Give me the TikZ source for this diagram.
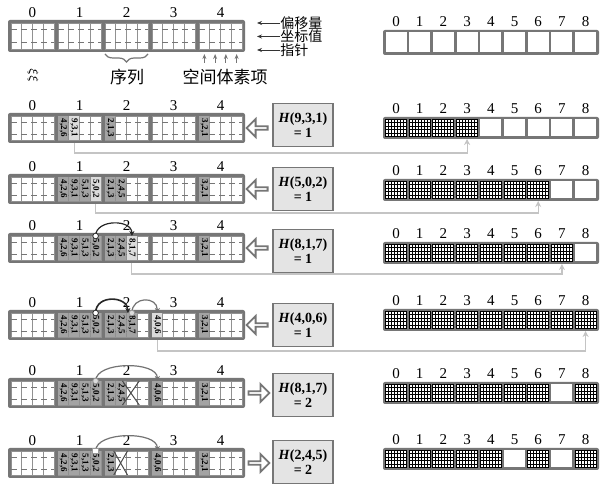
\documentclass[tikz,border=0pt]{standalone}
\usepackage{fontspec}
\setmainfont{Liberation Serif}
\newfontfamily\cjk{Noto Sans CJK SC}
\usetikzlibrary{arrows.meta,decorations.pathreplacing,shapes.arrows}
\definecolor{frame}{HTML}{767676}
\definecolor{itemc}{HTML}{A3A3A3}
\definecolor{newc}{HTML}{DCDCDC}
\definecolor{hboxc}{HTML}{E4E4E4}
\definecolor{linkc}{HTML}{C4C4C4}

% left array: name, top, height
\newcommand\LArr[3]{%
  \fill[frame, rounded corners=1pt] (8,#2) rectangle (245,#2+#3);
  \foreach \bk in {0,...,4}{%
    \foreach \cl in {0,...,3}{%
      \pgfmathsetmacro\lxa{11+47*\bk+10.75*\cl}%
      \filldraw[fill=white, draw=frame!80, line width=0.4pt] (\lxa,#2+3) rectangle (\lxa+10.75,#2+#3-3);%
      \coordinate (#1-\bk-\cl-t) at (\lxa+5.375,#2+3);%
      \coordinate (#1-\bk-\cl-b) at (\lxa+5.375,#2+#3);%
    }%
    \draw[frame, densely dashed, line width=0.4pt] (11+47*\bk,#2+0.3*#3) -- ++(43,0) (11+47*\bk,#2+0.7*#3) -- ++(43,0);%
    \node[lbl] (#1-n\bk) at (32.5+47*\bk,#2-7) {\bk};%
  }%
}
% item: name, top, block, col, fill, text
\newcommand\Itm[6]{%
  \pgfmathsetmacro\lxa{11+47*#3+10.75*#4}%
  \fill[#5] (\lxa+0.4,#2+3.4) rectangle (\lxa+10.35,#2+26.6);%
  \node[itxt] (#1-i#3#4) at (\lxa+5.375,#2+15) {#6};%
}
\newcommand\BOne[2]{%
  \Itm{#1}{#2}{1}{0}{itemc}{4,2,6}\Itm{#1}{#2}{1}{1}{itemc}{9,3,1}%
  \Itm{#1}{#2}{1}{2}{itemc}{5,1,3}\Itm{#1}{#2}{1}{3}{itemc}{5,0,2}}
% X mark: top, block, col, left ext, right ext
\newcommand\Xm[5]{%
  \pgfmathsetmacro\lxa{11+47*#2+10.75*#3}%
  \draw[black!70, line width=0.5pt] (\lxa-#4,#1+3) -- (\lxa+10.75+#5,#1+27) (\lxa+10.75+#5,#1+3) -- (\lxa-#4,#1+27);%
}
% right array: name, top, height
\newcommand\RArr[3]{%
  \fill[frame, rounded corners=1pt] (383,#2) rectangle (599,#2+#3);
  \foreach \ii in {0,...,8}{%
    \pgfmathsetmacro\lxa{385.5+23.7*\ii}%
    \fill[white] (\lxa,#2+2.5) rectangle (\lxa+21,#2+#3-2.5);%
    \coordinate (#1-\ii-b) at (\lxa+10.5,#2+#3);%
    \node[lbl] (#1-n\ii) at (\lxa+10.5,#2-8) {\ii};%
  }%
}
% filled cells: top, height, list
\newcommand\RFill[3]{%
  \foreach \ii in {#3}{%
    \pgfmathsetmacro\lxa{385.5+23.7*\ii}%
    \draw[black, line width=0.45pt] (\lxa,#1+2.5) rectangle (\lxa+21,#1+#2-2.5);%
    \foreach \kk in {1,...,6}{\draw[black, line width=0.45pt] (\lxa+3*\kk,#1+2.5) -- ++(0,#2-5);}%
    \foreach \kk in {1,...,4}{\draw[black, line width=0.45pt] (\lxa,#1+2.5+\kk*#2/5-\kk) -- ++(21,0);}%
  }%
}

\begin{document}
\begin{tikzpicture}[x=0.5pt,y=-0.5pt,
  lbl/.style={font=\fontsize{7.5}{8}\selectfont, inner sep=0},
  itxt/.style={font=\fontsize{4.5}{5}\selectfont\bfseries, rotate=-90, inner sep=0},
  cjkl/.style={font=\cjk\fontsize{8.5}{9}\selectfont, inner sep=0},
  cjks/.style={font=\cjk\fontsize{7}{7.5}\selectfont, inner sep=0},
  hbox/.style={draw=frame, line width=0.7pt, fill=hboxc, minimum width=30pt, minimum height=21.5pt, align=center, font=\fontsize{7}{7.8}\selectfont\bfseries, inner sep=0},
  barrow/.style={single arrow, draw=frame, fill=white, line width=0.9pt, minimum height=10.5pt, minimum width=9pt, single arrow head extend=1.8pt, inner sep=0},
  link/.style={draw=linkc, line width=0.6pt, -{Stealth[length=3pt,width=3pt]}},
  arcdark/.style={draw=black!85, line width=0.6pt, -{Stealth[length=2.5pt,width=2.5pt]}},
  arcgray/.style={draw=black!55, line width=0.6pt, -{Stealth[length=2.5pt,width=2.5pt]}},
  ptrmark/.style={circle, draw=black!80, fill=white, line width=0.4pt, inner sep=0, minimum size=2.8pt},
  hdrarrow/.style={draw=black!80, line width=0.4pt, -{Stealth[length=2.5pt,width=2pt]}},
]
\useasboundingbox[fill=white] (0,0) rectangle (600,485);

% ---------- header ----------
\LArr{h}{20}{32}
\RArr{q0}{30}{25}
\node[cjks, anchor=west] (t1) at (280,23) {偏移量};
\node[cjks, anchor=west] (t2) at (280,36.5) {坐标值};
\node[cjks, anchor=west] (t3) at (280,50) {指针};
\draw[hdrarrow] (t1.west) -- ++(-23,0);
\draw[hdrarrow] (t2.west) -- ++(-23,0);
\draw[hdrarrow] (t3.west) -- ++(-23,0);
\draw[frame, line width=0.6pt, decorate, decoration={brace, mirror, amplitude=4pt}] (105,54) -- (148,54);
\node[cjkl] (seq) at (127,77) {序列};
\node[cjkl] (vox) at (225,77) {空间体素项};
\foreach \cl in {0,...,3}{\draw[draw=frame, line width=0.5pt, -{Stealth[length=2.5pt,width=2pt]}] (h-4-\cl-b) ++(0,11) -- ++(0,-9);}
\node[rotate=-90, font=\fontsize{6}{6}\selectfont, inner sep=0] (sq) at (33,76) {$\xi\xi$};

% ---------- row 1 ----------
\LArr{r1}{113}{30}
\Itm{r1}{113}{1}{0}{itemc}{4,2,6}
\Itm{r1}{113}{1}{1}{newc}{9,3,1}
\Itm{r1}{113}{2}{0}{itemc}{2,1,3}
\Itm{r1}{113}{4}{0}{itemc}{3,2,1}
\node[barrow, shape border rotate=180] (a1) at (258,128) {};
\node[hbox] (H1) at (303,125) {\textit{H}(9,3,1)\\= 1};
\RArr{q1}{117}{22}
\RFill{117}{22}{0,1,2,3}

% ---------- row 2 ----------
\LArr{r2}{174}{30}
\Itm{r2}{174}{1}{0}{itemc}{4,2,6}
\Itm{r2}{174}{1}{1}{itemc}{9,3,1}
\Itm{r2}{174}{1}{2}{itemc}{5,1,3}
\Itm{r2}{174}{1}{3}{newc}{5,0,2}
\Itm{r2}{174}{2}{0}{itemc}{2,1,3}
\Itm{r2}{174}{2}{1}{itemc}{2,4,5}
\Itm{r2}{174}{4}{0}{itemc}{3,2,1}
\node[barrow, shape border rotate=180] (a2) at (258,189) {};
\node[hbox] (H2) at (303,189) {\textit{H}(5,0,2)\\= 1};
\RArr{q2}{179}{22}
\RFill{179}{22}{0,1,2,3,4,5,6}

% ---------- row 3 ----------
\LArr{r3}{233}{30}
\BOne{r3}{233}
\Itm{r3}{233}{2}{0}{itemc}{2,1,3}
\Itm{r3}{233}{2}{1}{itemc}{2,4,5}
\Itm{r3}{233}{2}{2}{newc}{8,1,7}
\Itm{r3}{233}{4}{0}{itemc}{3,2,1}
\draw[arcdark] (r3-1-3-t) .. controls +(0,-17) and +(0,-17) .. (r3-2-2-t);
\node[ptrmark] (m3) at (r3-1-3-t) {};
\node[barrow, shape border rotate=180] (a3) at (258,248) {};
\node[hbox] (H3) at (303,251) {\textit{H}(8,1,7)\\= 1};
\RArr{q3}{242}{22}
\RFill{242}{22}{0,1,2,3,4,5,6,7}

% ---------- row 4 ----------
\LArr{r4}{310}{30}
\BOne{r4}{310}
\Itm{r4}{310}{2}{0}{itemc}{2,1,3}
\Itm{r4}{310}{2}{1}{itemc}{2,4,5}
\Itm{r4}{310}{2}{2}{itemc}{8,1,7}
\Itm{r4}{310}{3}{0}{newc}{4,0,6}
\Itm{r4}{310}{4}{0}{itemc}{3,2,1}
\draw[arcdark, line width=0.8pt] (r4-1-3-t) .. controls +(0,-19) and +(0,-17) .. ([xshift=-2pt]r4-2-2-t);
\draw[arcgray] (r4-2-2-t) .. controls +(0,-17) and +(0,-17) .. (r4-3-0-t);
\node[ptrmark] (m4a) at (r4-1-3-t) {};
\node[ptrmark, fill=newc, draw=black!40] (m4b) at (r4-2-2-t) {};
\node[barrow, shape border rotate=180] (a4) at (258,325) {};
\node[hbox] (H4) at (303,325) {\textit{H}(4,0,6)\\= 1};
\RArr{q4}{309}{22}
\RFill{309}{22}{0,1,2,3,4,5,6,7,8}

% ---------- row 5 ----------
\LArr{r5}{378}{30}
\BOne{r5}{378}
\Itm{r5}{378}{2}{0}{itemc}{2,1,3}
\Itm{r5}{378}{2}{1}{itemc}{2,4,5}
\Itm{r5}{378}{3}{0}{itemc}{4,0,6}
\Itm{r5}{378}{4}{0}{itemc}{3,2,1}
\Xm{378}{2}{2}{4}{2}
\draw[arcgray] (r5-1-3-t) .. controls +(0,-20) and +(0,-20) .. (r5-3-0-t);
\node[ptrmark, fill=newc, draw=black!40] (m5) at (r5-1-3-t) {};
\node[barrow] (a5) at (258,393) {};
\node[hbox] (H5) at (303,395) {\textit{H}(8,1,7)\\= 2};
\RArr{q5}{382}{22}
\RFill{382}{22}{0,1,2,3,4,5,6,8}

% ---------- row 6 ----------
\LArr{r6}{448}{30}
\BOne{r6}{448}
\Itm{r6}{448}{2}{0}{itemc}{2,1,3}
\Itm{r6}{448}{3}{0}{itemc}{4,0,6}
\Itm{r6}{448}{4}{0}{itemc}{3,2,1}
\Xm{448}{2}{1}{2}{1}
\draw[arcgray] (r6-1-3-t) .. controls +(0,-20) and +(0,-20) .. (r6-3-0-t);
\node[rectangle, draw=black!40, fill=white, line width=0.4pt, inner sep=0, minimum size=2.8pt] (m6) at (r6-1-3-t) {};
\node[barrow] (a6) at (258,463) {};
\node[hbox] (H6) at (303,462) {\textit{H}(2,4,5)\\= 2};
\RArr{q6}{448}{22}
\RFill{448}{22}{0,1,2,3,4,6,8}

% ---------- links ----------
\draw[link] (r1-1-1-b) -- ++(0,10) -| (q1-3-b);
\draw[link] (r2-1-3-b) -- ++(0,9) -| (q2-6-b);
\draw[link] (r3-2-2-b) -- ++(0,11) -| (q3-7-b);
\draw[link] (r4-3-0-b) -- ++(0,11) -| (q4-8-b);
\end{tikzpicture}
\end{document}
